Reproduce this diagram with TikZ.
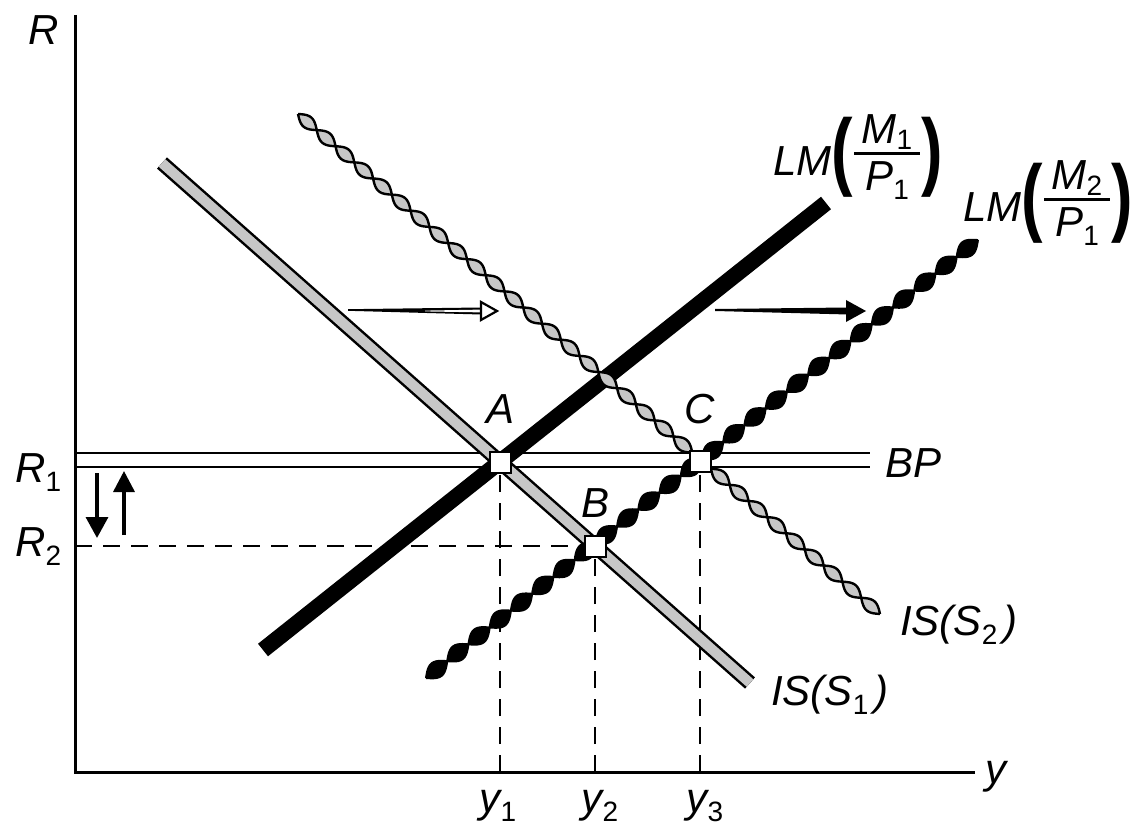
\documentclass[tikz,border=0pt]{standalone}
\usepackage{fontspec}
\usepackage{graphicx}
\setmainfont{Liberation Sans}
\usetikzlibrary{arrows.meta}
\newcommand\sbs[1]{\raisebox{-9pt}{\fontsize{28}{28}\selectfont\upshape #1}}
\newcommand\nsb[1]{\raisebox{-6pt}{\fontsize{28}{28}\selectfont\upshape #1}}
\newcommand\bigpar[1]{\raisebox{-4pt}{\fontsize{86}{86}\selectfont\upshape\bfseries\scalebox{0.75}[1]{#1}}}
\newcommand\fracpart[2]{\lower15pt\vbox{\offinterlineskip\hbox to 66pt{\hfil\smash{#1}\hfil}\kern8pt\hrule height 3pt\kern36pt\hbox to 66pt{\hfil\smash{#2}\hfil}}}
\newcommand\LMlab[2]{\textit{LM}\bigpar{(}\kern1pt\fracpart{\textit{M}\nsb{#1}}{\textit{P}\sbs{#2}}\kern1pt\bigpar{)}}
\definecolor{isgray}{gray}{0.78}
\begin{document}
\begin{tikzpicture}[x=1pt,y=-1pt,
  txt/.style={inner sep=0pt, font=\fontsize{42}{46}\selectfont\itshape},
  axisline/.style={line width=3pt},
  bpline/.style={line width=2.6pt},
  dropline/.style={line width=2pt, dash pattern=on 17pt off 11pt},
  eqpoint/.style={draw, fill=white, line width=2pt, minimum size=21pt, inner sep=0pt},
  chainline/.style={line width=2.4pt, black},
  beadline/.style={line width=2pt, black}]
\useasboundingbox (0,0) rectangle (1144,829);
% axes
\coordinate (ytop) at (75,15);
\coordinate (O) at (75,772);
\coordinate (xend) at (975,772);
\draw[axisline] (ytop) -- (O) -- (xend);
% BP lines
\coordinate (bp1a) at (75,453); \coordinate (bp1b) at (870,453);
\coordinate (bp2a) at (75,467); \coordinate (bp2b) at (870,467);
\draw[bpline] (bp1a) -- (bp1b);
\draw[bpline] (bp2a) -- (bp2b);
% equilibrium positions
\coordinate (pA) at (500,462);
\coordinate (pB) at (595,546);
\coordinate (pC) at (700,461);
% drop lines
\draw[dropline] (pA |- O) -- (pA);
\draw[dropline] (pB |- O) -- (pB);
\draw[dropline] (pC |- O) -- (pC);
\draw[dropline] (pB -| O) -- (pB);
% IS(S1)
\coordinate (is1a) at (162,163); \coordinate (is1b) at (750,683);
\draw[line width=15pt, black] (is1a) -- (is1b);
\draw[line width=10pt, isgray] (is1a) -- (is1b);
% LM1
\coordinate (lm1a) at (263,650); \coordinate (lm1b) at (826,203);
\draw[line width=16pt, black] (lm1a) -- (lm1b);
% IS(S2) chain
\fill[isgray] plot[domain=0:767.3, samples=373, variable=\t]
   ({298+0.7585*\t-3.91*sin(7.2727*\t)},{114+0.6516*\t+4.551*sin(7.2727*\t)})
   -- plot[domain=767.3:0, samples=373, variable=\t]
   ({298+0.7585*\t+3.91*sin(7.2727*\t)},{114+0.6516*\t-4.551*sin(7.2727*\t)}) -- cycle;
\draw[chainline] plot[domain=0:767.3, samples=373, variable=\t]
   ({298+0.7585*\t-3.91*sin(7.2727*\t)},{114+0.6516*\t+4.551*sin(7.2727*\t)});
\draw[chainline] plot[domain=0:767.3, samples=373, variable=\t]
   ({298+0.7585*\t+3.91*sin(7.2727*\t)},{114+0.6516*\t-4.551*sin(7.2727*\t)});
% LM2 beads
\fill[black] plot[domain=0:704.7, samples=313, variable=\t]
   ({426+0.7833*\t+4.972*sin(6.642*\t)},{678-0.6215*\t+6.266*sin(6.642*\t)})
   -- plot[domain=704.7:0, samples=313, variable=\t]
   ({426+0.7833*\t-4.972*sin(6.642*\t)},{678-0.6215*\t-6.266*sin(6.642*\t)}) -- cycle;
\draw[beadline] plot[domain=0:704.7, samples=313, variable=\t]
   ({426+0.7833*\t+4.972*sin(6.642*\t)},{678-0.6215*\t+6.266*sin(6.642*\t)});
\draw[beadline] plot[domain=0:704.7, samples=313, variable=\t]
   ({426+0.7833*\t-4.972*sin(6.642*\t)},{678-0.6215*\t-6.266*sin(6.642*\t)});
% equilibrium squares
\node[eqpoint] (A) at (pA) {};
\node[eqpoint] (B) at (pB) {};
\node[eqpoint] (C) at (pC) {};
% hollow shift arrow
\coordinate (h2) at (497,311);
\fill[black] (348,309.2) -- (481,307.5) -- (481,314.5) -- (348,310.8) -- cycle;
\fill[white] (425,310.6) -- (481,309.6) -- (481,312.4) -- (425,311.4) -- cycle;
\draw[line width=2.2pt, fill=white, line join=miter] (481,302) -- (h2) -- (481,320) -- cycle;
% black shift arrow
\coordinate (k2) at (866,311);
\fill[black] (715,309) -- (848,307.5) -- (848,314.5) -- (715,311) -- cycle;
\fill[black] (846,300) -- (k2) -- (846,322) -- cycle;
% small vertical arrows
\coordinate (d0) at (97,473); \coordinate (d1) at (97,538);
\coordinate (u0) at (124,535); \coordinate (u1) at (124,471);
\draw[line width=3.5pt, -{Triangle[length=21pt,width=22pt]}] (d0) -- (d1);
\draw[line width=3.5pt, -{Triangle[length=21pt,width=21pt]}] (u0) -- (u1);
% labels
\node[txt, anchor=base west] (lR) at (28,45) {R};
\node[txt, anchor=base west] (lR1) at (15,482) {R\sbs{1}};
\node[txt, anchor=base west] (lR2) at (15,556) {R\sbs{2}};
\node[txt, anchor=base west] (ly) at (985,783) {y};
\node[txt, anchor=base] (ly1) at (498,812) {y\sbs{1}};
\node[txt, anchor=base] (ly2) at (600,812) {y\sbs{2}};
\node[txt, anchor=base] (ly3) at (705,812) {y\sbs{3}};
\node[txt, anchor=base] (lA) at (501,423) {A};
\node[txt, anchor=base] (lB) at (596,517) {B};
\node[txt, anchor=base] (lC) at (700,423) {C};
\node[txt, anchor=base west] (lBP) at (885,477) {BP};
\node[txt, anchor=base west] (lIS2) at (900,635) {IS(S\sbs{2}\kern6pt)};
\node[txt, anchor=base west] (lIS1) at (771,705) {IS(S\sbs{1}\kern6pt)};
\node[txt, anchor=base west] (lLM1) at (773,176) {\LMlab{1}{1}};
\node[txt, anchor=base west] (lLM2) at (963,222) {\LMlab{2}{1}};
\end{tikzpicture}
\end{document}
